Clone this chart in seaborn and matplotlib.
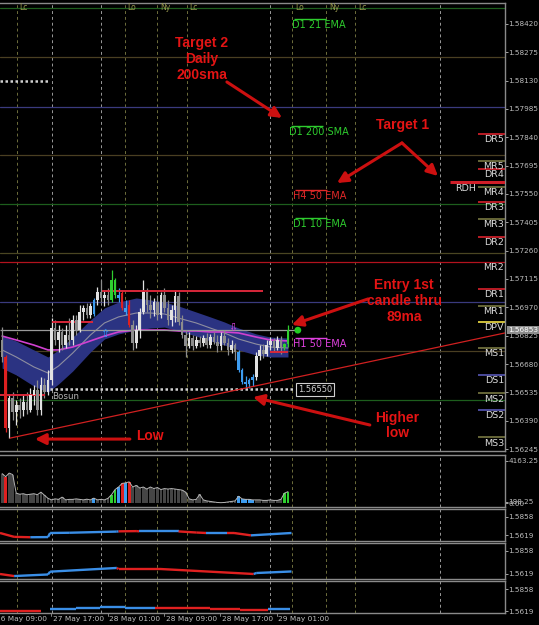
import numpy as np
import matplotlib
matplotlib.use("Agg")
import matplotlib.pyplot as plt
import matplotlib.transforms as mtrans
import seaborn as sns

sns.set_style("dark", {"axes.facecolor": "black", "figure.facecolor": "black",
                       "axes.edgecolor": "#8a8a8a", "grid.color": "black"})
plt.rcParams["font.family"] = ["DejaVu Sans"]

W, H = 539, 625

# ---------------- data (GBPUSD M30) ----------------
opens = [1.56803, 1.56716, 1.56352, 1.56506, 1.56434, 1.56470, 1.56445, 1.56485, 1.56445, 1.56521,
         1.56547, 1.56445, 1.56572, 1.56536, 1.56598, 1.56864, 1.56803, 1.56844, 1.56777, 1.56828,
         1.56803, 1.56905, 1.56854, 1.56946, 1.56967, 1.56931, 1.56936, 1.57008, 1.57049, 1.57018,
         1.57033, 1.57008, 1.57110, 1.57033, 1.57043, 1.56967, 1.56982, 1.56880, 1.56787, 1.56854,
         1.56946, 1.57049, 1.56982, 1.56956, 1.56997, 1.56931, 1.57033, 1.56967, 1.56905, 1.56956,
         1.57028, 1.56895, 1.56828, 1.56772, 1.56813, 1.56772, 1.56803, 1.56787, 1.56813, 1.56777,
         1.56818, 1.56793, 1.56772, 1.56823, 1.56787, 1.56752, 1.56777, 1.56741, 1.56649, 1.56588,
         1.56578, 1.56598, 1.56613, 1.56721, 1.56752, 1.56731, 1.56777, 1.56798, 1.56762, 1.56803,
         1.56767, 1.56782]
highs = [1.56869, 1.56726, 1.56521, 1.56536, 1.56496, 1.56506, 1.56521, 1.56536, 1.56557, 1.56572,
         1.56598, 1.56613, 1.56608, 1.56649, 1.56915, 1.56905, 1.56880, 1.56864, 1.56880, 1.56915,
         1.56931, 1.56931, 1.56982, 1.56982, 1.56992, 1.56992, 1.57018, 1.57074, 1.57110, 1.57059,
         1.57069, 1.57161, 1.57120, 1.57069, 1.57059, 1.57008, 1.57008, 1.56905, 1.56880, 1.56967,
         1.57110, 1.57069, 1.57033, 1.57018, 1.57033, 1.57049, 1.57069, 1.57008, 1.56982, 1.57059,
         1.57049, 1.56931, 1.56854, 1.56844, 1.56828, 1.56823, 1.56823, 1.56828, 1.56839, 1.56834,
         1.56844, 1.56828, 1.56844, 1.56854, 1.56813, 1.56803, 1.56787, 1.56752, 1.56659, 1.56618,
         1.56608, 1.56629, 1.56741, 1.56777, 1.56782, 1.56803, 1.56818, 1.56813, 1.56823, 1.56823,
         1.56787, 1.56880]
lows = [1.56690, 1.56332, 1.56301, 1.56393, 1.56368, 1.56404, 1.56414, 1.56424, 1.56434, 1.56470,
        1.56419, 1.56419, 1.56506, 1.56521, 1.56572, 1.56777, 1.56741, 1.56752, 1.56762, 1.56777,
        1.56777, 1.56828, 1.56844, 1.56905, 1.56915, 1.56915, 1.56926, 1.56982, 1.56997, 1.56977,
        1.56982, 1.56997, 1.57018, 1.56997, 1.56956, 1.56931, 1.56869, 1.56752, 1.56762, 1.56813,
        1.56936, 1.56946, 1.56915, 1.56926, 1.56905, 1.56915, 1.56946, 1.56880, 1.56874, 1.56895,
        1.56880, 1.56813, 1.56716, 1.56762, 1.56752, 1.56762, 1.56767, 1.56772, 1.56762, 1.56762,
        1.56782, 1.56741, 1.56752, 1.56777, 1.56726, 1.56736, 1.56700, 1.56639, 1.56578, 1.56552,
        1.56557, 1.56567, 1.56598, 1.56700, 1.56711, 1.56721, 1.56752, 1.56741, 1.56752, 1.56731,
        1.56752, 1.56767]
closes = [1.56716, 1.56352, 1.56506, 1.56434, 1.56470, 1.56445, 1.56485, 1.56445, 1.56521, 1.56547,
          1.56445, 1.56572, 1.56536, 1.56598, 1.56864, 1.56803, 1.56844, 1.56777, 1.56828, 1.56803,
          1.56905, 1.56854, 1.56946, 1.56967, 1.56931, 1.56977, 1.57008, 1.57049, 1.57018, 1.57033,
          1.57008, 1.57110, 1.57033, 1.57018, 1.56967, 1.56946, 1.56880, 1.56787, 1.56854, 1.56946,
          1.57049, 1.56982, 1.56956, 1.56997, 1.56931, 1.57033, 1.56967, 1.56905, 1.56956, 1.57028,
          1.56895, 1.56828, 1.56772, 1.56813, 1.56772, 1.56803, 1.56787, 1.56813, 1.56777, 1.56818,
          1.56793, 1.56772, 1.56823, 1.56787, 1.56752, 1.56777, 1.56741, 1.56649, 1.56588, 1.56578,
          1.56598, 1.56613, 1.56721, 1.56752, 1.56731, 1.56777, 1.56798, 1.56762, 1.56803, 1.56767,
          1.56782, 1.56853]
volume = [2900, 2600, 2950, 2800, 1000, 900, 950, 850, 900, 950,
          850, 1100, 800, 500, 350, 450, 400, 620, 350, 400,
          400, 450, 400, 350, 420, 350, 520, 350, 400, 350,
          500, 850, 1350, 1600, 1950, 2000, 2100, 1600, 1750, 1500,
          1600, 1400, 1600, 1450, 1550, 1350, 1450, 1400, 1450, 1400,
          1350, 1300, 1100, 450, 350, 400, 880, 350, 250, 200,
          150, 100, 80, 100, 150, 200, 250, 700, 450, 400,
          400, 350, 350, 350, 300, 300, 350, 300, 300, 400,
          1000, 1150]
# coloured bars (candles + volume)
highlight = {1: "R", 26: "B", 31: "G", 32: "G", 33: "B", 34: "R", 35: "B", 36: "R",
             67: "B", 68: "B", 69: "B", 70: "B", 71: "B", 80: "G", 81: "G"}

# envelope band (89 ma) and H1 50 EMA, at sample bars
band_x = [0, 4, 9, 13, 16, 20, 25, 29, 33, 38, 42, 46, 50, 55, 59, 63, 67, 72, 76, 81]
band_hi = [1.56823, 1.56798, 1.56752, 1.56716, 1.56752, 1.56818, 1.56905, 1.56967, 1.56997, 1.57018,
           1.57008, 1.56997, 1.56977, 1.56946, 1.56921, 1.56895, 1.56864, 1.56834, 1.56818, 1.56813]
band_lo = [1.56659, 1.56624, 1.56567, 1.56536, 1.56578, 1.56644, 1.56741, 1.56808, 1.56834, 1.56854,
           1.56864, 1.56869, 1.56849, 1.56823, 1.56798, 1.56777, 1.56752, 1.56726, 1.56716, 1.56716]
band_mid = [1.56752, 1.56716, 1.56665, 1.56634, 1.56670, 1.56736, 1.56828, 1.56890, 1.56921, 1.56941,
            1.56941, 1.56936, 1.56915, 1.56890, 1.56864, 1.56839, 1.56808, 1.56782, 1.56767, 1.56762]
ema50 = [1.56823, 1.56803, 1.56777, 1.56752, 1.56752, 1.56767, 1.56798, 1.56823, 1.56844, 1.56854,
         1.56854, 1.56854, 1.56849, 1.56849, 1.56844, 1.56844, 1.56839, 1.56818, 1.56803, 1.56798]

# full width levels: price, colour
levels = [(1.58502, "#1d5e1d"), (1.58251, "#4a3f22"), (1.57995, "#3a3a7e"), (1.57750, "#4a3f22"),
          (1.57499, "#1d5e1d"), (1.57249, "#4a4622"), (1.57202, "#b3121e"), (1.56997, "#3a3a7e"),
          (1.56747, "#4a3f22"), (1.56496, "#1d5e1d")]
# daily / mid pivots on the right
pivot_names = ["DR5", "MR5", "DR4", "MR4", "DR3", "MR3", "DR2", "MR2", "DR1", "MR1", "DPV",
               "MS1", "DS1", "MS2", "DS2", "MS3"]
pivot_prices = [1.57857, 1.57719, 1.57678, 1.57586, 1.57509, 1.57422, 1.57330, 1.57202, 1.57064,
                1.56977, 1.56895, 1.56762, 1.56624, 1.56531, 1.56445, 1.56306]
pivot_cols = ["#c81e28", "#6e6e3c", "#c81e28", "#6e6e3c", "#c81e28", "#6e6e3c", "#c81e28", "#b3121e",
              "#c81e28", "#6e6e3c", "#e0d040", "#6e6e3c", "#5050a8", "#6e6e3c", "#5050a8", "#6e6e3c"]
rdh_price = 1.57612

# MA labels: text, price, bar, colour
ma_labels = [("D1 21 EMA", 1.58446, 82.1, "#2ecc2e"), ("D1 200 SMA", 1.57898, 81.3, "#2ecc2e"),
             ("H4 50 EMA", 1.57570, 82.4, "#e02828"), ("D1 10 EMA", 1.57427, 82.4, "#2ecc2e"),
             ("H1 50 EMA", 1.56813, 82.4, "#e040e0")]

# short red s/r segments: price, from bar, to bar
sr_lines = [(1.56895, 14.1, 25.7), (1.57054, 28.3, 73.9), (1.56521, -0.6, 12.2), (1.56741, 75.9, 81.0)]
bosun_price = 1.56550
old_bosun = 1.58129
bid = 1.56853
trend_x = [2.24, 142.5]
trend_y = [1.56301, 1.56839]

price_ticks = [1.56245, 1.56390, 1.56535, 1.56680, 1.56825, 1.56970, 1.57115, 1.57260,
               1.57405, 1.57550, 1.57695, 1.57840, 1.57985, 1.58130, 1.58275, 1.58420]

session_x = [4.08, 34.76, 44.0, 52.3, 82.2, 91.9, 100.0]
session_lab = ["Lc", "Lo", "Ny", "Lc", "Lo", "Ny", "Lc"]
grid_x = [14.0, 27.9, 75.9, 124.0]
time_x = [-2.2, 13.8, 29.9, 45.9, 61.7, 77.8]
time_lab = ["26 May 09:00", "27 May 17:00", "28 May 01:00", "28 May 09:00", "28 May 17:00", "29 May 01:00"]

# lower indicator panels: bar, value, colour of following segment
ind1_x = [-0.6, 3.4, 8, 13, 13.6, 19, 32.5, 33, 38.2, 38.8, 50, 55, 57.8, 63.7, 65.7, 70.5, 82]
ind1_v = [1.5649, 1.5600, 1.5595, 1.5597, 1.5649, 1.5652, 1.5667, 1.5670, 1.5673, 1.5669, 1.5669,
          1.5655, 1.5649, 1.5649, 1.5649, 1.5619, 1.5649]
ind1_c = "rrbbbbbrrbrrbrrb"
ind2_x = [-0.6, 3.4, 13, 13.6, 32.5, 33, 45, 71.3, 72, 82]
ind2_v = [1.5619, 1.5598, 1.5614, 1.5643, 1.5681, 1.5670, 1.5670, 1.5619, 1.5629, 1.5645]
ind2_c = "rbbbrrrbb"
ind3_x = [-0.6, 11, 13.6, 21, 27.7, 34.8, 43.3, 51, 59, 67.4, 75.3, 81.6]
ind3_v = [1.5621, 1.5621, 1.5643, 1.5657, 1.5669, 1.5657, 1.5657, 1.5650, 1.5642, 1.5632, 1.5642, 1.5642]
ind3_c = "r.bbbbrrrrb"

RED_TXT = "#e41414"
RED_ARR = "#cc1010"
hl_col = {"R": "#dd2020", "B": "#3d9cf0", "G": "#2fcf2f"}
ind_col = {"r": "#e02020", "b": "#3a8ee6"}

# ---------------- figure ----------------
fig = plt.figure(figsize=(W / 100, H / 100), dpi=100)
fig.patch.set_facecolor("black")
x_min, x_max = -0.6, 142.5


def panel(top, bottom):
    a = fig.add_axes([0, 1 - bottom / H, 505 / W, (bottom - top) / H])
    a.set_facecolor("black")
    a.set_xlim(x_min, x_max)
    a.set_xticks([])
    a.grid(False)
    for s in a.spines.values():
        s.set_color("#8a8a8a")
        s.set_linewidth(1.0)
    a.spines["left"].set_visible(False)
    a.yaxis.tick_right()
    a.tick_params(axis="y", colors="#bdbdbd", labelsize=5.2, length=2, width=0.6, pad=0.6)
    for x in session_x:
        a.axvline(x, color="#6e6e3c", lw=0.7, ls=(0, (3, 3)), zorder=0.5)
    for x in grid_x:
        a.axvline(x, color="#9a9a9a", lw=0.7, ls=(0, (3, 3)), zorder=0.5)
    return a


ax = panel(3, 451)
axv = panel(455, 507)
ax1 = panel(509, 541)
ax2 = panel(543, 579)
ax3 = panel(581, 613)

# ---- main price panel ----
ax.set_ylim(1.56235, 1.58527)
ax.set_yticks(price_ticks)
ax.set_yticklabels([f"{p:.5f}" for p in price_ticks])

for p, c in levels:
    ax.axhline(p, color=c, lw=0.9, zorder=0.6)

ax.fill_between(band_x, band_lo, band_hi, color="#2b3382", lw=0, zorder=1)
sns.lineplot(x=band_x, y=band_mid, ax=ax, color="#8e8ea0", lw=0.8, zorder=2)
sns.lineplot(x=band_x, y=ema50, ax=ax, color="#d040d0", lw=1.2, zorder=2)

o, h, l, c = map(np.array, (opens, highs, lows, closes))
bars = np.arange(len(c))
cols = []
for i in bars:
    if i in highlight:
        cols.append(hl_col[highlight[i]])
    elif c[i] >= o[i]:
        cols.append("#e2e2e2")
    else:
        cols.append("#8c8c8c")
ax.vlines(bars, l, h, colors=cols, lw=0.9, zorder=3)
ax.bar(bars, np.maximum(np.abs(c - o), 0.00003), bottom=np.minimum(o, c), width=0.74,
       color=cols, lw=0, zorder=4)

for p, x0, x1 in sr_lines:
    ax.hlines(p, x0, x1, color="#d8283a", lw=1.4, zorder=3)
ax.hlines(bosun_price, 13.6, 82.5, color="#d0d0d0", lw=1.8, ls=(0, (1, 1)), zorder=3)
ax.hlines(old_bosun, x_min, 13.6, color="#d0d0d0", lw=1.8, ls=(0, (1, 1)), zorder=3)
ax.hlines(bid, x_min, 83.5, color="#9a9a9a", lw=0.9, zorder=2.5)
sns.lineplot(x=trend_x, y=trend_y, ax=ax, color="#d02020", lw=0.9, zorder=3)
sns.scatterplot(x=[83.8], y=[bid], ax=ax, color="#22cc22", s=24, edgecolor="none", zorder=6)

ax.text(14.3, 1.56516, "Bosun", color="#b4b4b4", fontsize=6.3, va="center", ha="left")
ax.text(83.8, bosun_price, "1.56550", color="#d0d0d0", fontsize=6, va="center", ha="left",
        bbox=dict(boxstyle="square,pad=0.2", fc="black", ec="#d0d0d0", lw=0.8))
ax.text(29, 1.56834, "\u21e7", color="#3399ff", fontsize=8, ha="center", va="center", zorder=5)
ax.text(65.4, 1.56864, "\u21e9", color="#dd44dd", fontsize=8, ha="center", va="center", zorder=5)

# pivots
for name, p, col in zip(pivot_names, pivot_prices, pivot_cols):
    if name != "MR2":
        ax.hlines(p, 134.8, x_max, color=col, lw=1.3, zorder=2)
    ax.annotate(name, (142.2, p), xytext=(0, -1.0), textcoords="offset points", ha="right",
                va="top", color="#d8d8d8", fontsize=6.8, zorder=7)
ax.hlines(rdh_price, 126.9, x_max, color="#d01e28", lw=2.2, zorder=3)
ax.annotate("RDH", (128.3, rdh_price), xytext=(0, -1.5), textcoords="offset points",
            ha="left", va="top", color="#d8d8d8", fontsize=6.8)

for txt, p, x, col in ma_labels:
    ax.hlines(p, x + 0.7, x + 9.6, color=col, lw=1.0)
    ax.annotate(txt, (x, p), xytext=(0, -1.0), textcoords="offset points", ha="left",
                va="top", color=col, fontsize=7)

# session labels
for x, lab in zip(session_x, session_lab):
    ax.text(x + 0.8, 0.989, lab, transform=mtrans.blended_transform_factory(ax.transData, ax.transAxes),
            color="#9a9a50", fontsize=5.5, va="center", ha="left")

# bid label on the price scale
ax.annotate(f"{bid:.5f}", xy=(1, bid), xycoords=("axes fraction", "data"), xytext=(2.0, 0),
            textcoords="offset points", ha="left", va="center", fontsize=5.2, color="white",
            bbox=dict(boxstyle="square,pad=0.15", fc="#8c8c8c", ec="none"), annotation_clip=False)

# red notes
note_kw = dict(color=RED_TXT, fontsize=10, fontweight="bold", family=["Liberation Sans", "DejaVu Sans"],
               ha="center", va="center", linespacing=1.15, zorder=8)
arr_kw = dict(arrowstyle="-|>", color=RED_ARR, lw=2.2, mutation_scale=16, shrinkA=0, shrinkB=0)
ax.text(56.6, 1.58241, "Target 2\nDaily\n200sma", **note_kw)
ax.annotate("", xy=(79.3, 1.57939), xytext=(63.7, 1.58123), arrowprops=arr_kw)
ax.text(113.6, 1.57903, "Target 1", **note_kw)
ax.annotate("", xy=(94.9, 1.57606), xytext=(113.3, 1.57811), arrowprops=arr_kw)
ax.annotate("", xy=(123.5, 1.57642), xytext=(113.3, 1.57811), arrowprops=arr_kw)
ax.text(113.9, 1.57002, "Entry 1st\ncandle thru\n89ma", **note_kw)
ax.annotate("", xy=(82.1, 1.56880), xytext=(103.7, 1.57013), arrowprops=arr_kw)
ax.text(111.9, 1.56365, "Higher\nlow", **note_kw)
ax.annotate("", xy=(71.1, 1.56511), xytext=(104.2, 1.56368), arrowprops=arr_kw)
ax.text(41.9, 1.56311, "Low", **note_kw)
ax.annotate("", xy=(9.3, 1.56296), xytext=(36.2, 1.56296), arrowprops=arr_kw)

# ---- volume ----
vcols = [hl_col[highlight[i]] if i in highlight else "#454545" for i in bars]
axv.bar(bars, volume, width=0.8, color=vcols, lw=0, zorder=2)
sns.lineplot(x=bars, y=volume, ax=axv, color="#b4b4b4", lw=0.7, zorder=3)
axv.set_ylim(-340, 4706)
axv.set_yticks([0, 188.25, 4163.25])
axv.set_yticklabels(["0.00", "188.25", "4163.25"])

# ---- indicator panels ----
def seg_line(a, xs, vs, cs, steps=False):
    for k in range(len(xs) - 1):
        if cs[k] not in ind_col:
            continue
        y1 = vs[k] if steps else vs[k + 1]
        a.plot([xs[k], xs[k + 1]], [vs[k], y1], color=ind_col[cs[k]], lw=1.7,
               solid_capstyle="butt", zorder=3)


for a, xs, vs, cs, lims, st in [(ax1, ind1_x, ind1_v, ind1_c, (1.55473, 1.59536), False),
                                (ax2, ind2_x, ind2_v, ind2_c, (1.55677, 1.59370), False),
                                (ax3, ind3_x, ind3_v, ind3_c, (1.55990, 1.59515), True)]:
    seg_line(a, xs, vs, cs, st)
    a.set_ylim(*lims)
    a.set_yticks([1.5619, 1.5858])
    a.set_yticklabels(["1.5619", "1.5858"])

# time axis
bt = mtrans.blended_transform_factory(ax3.transData, ax3.transAxes)
for x, lab in zip(time_x, time_lab):
    ax3.plot([x, x], [0, -0.1], transform=bt, color="#9a9a9a", lw=0.6, clip_on=False)
    ax3.text(x + 0.5, -0.2, lab, transform=bt, color="#c0c0c0", fontsize=5.3,
             ha="left", va="center", clip_on=False)

fig.savefig("out.png", dpi=100, facecolor="black")
